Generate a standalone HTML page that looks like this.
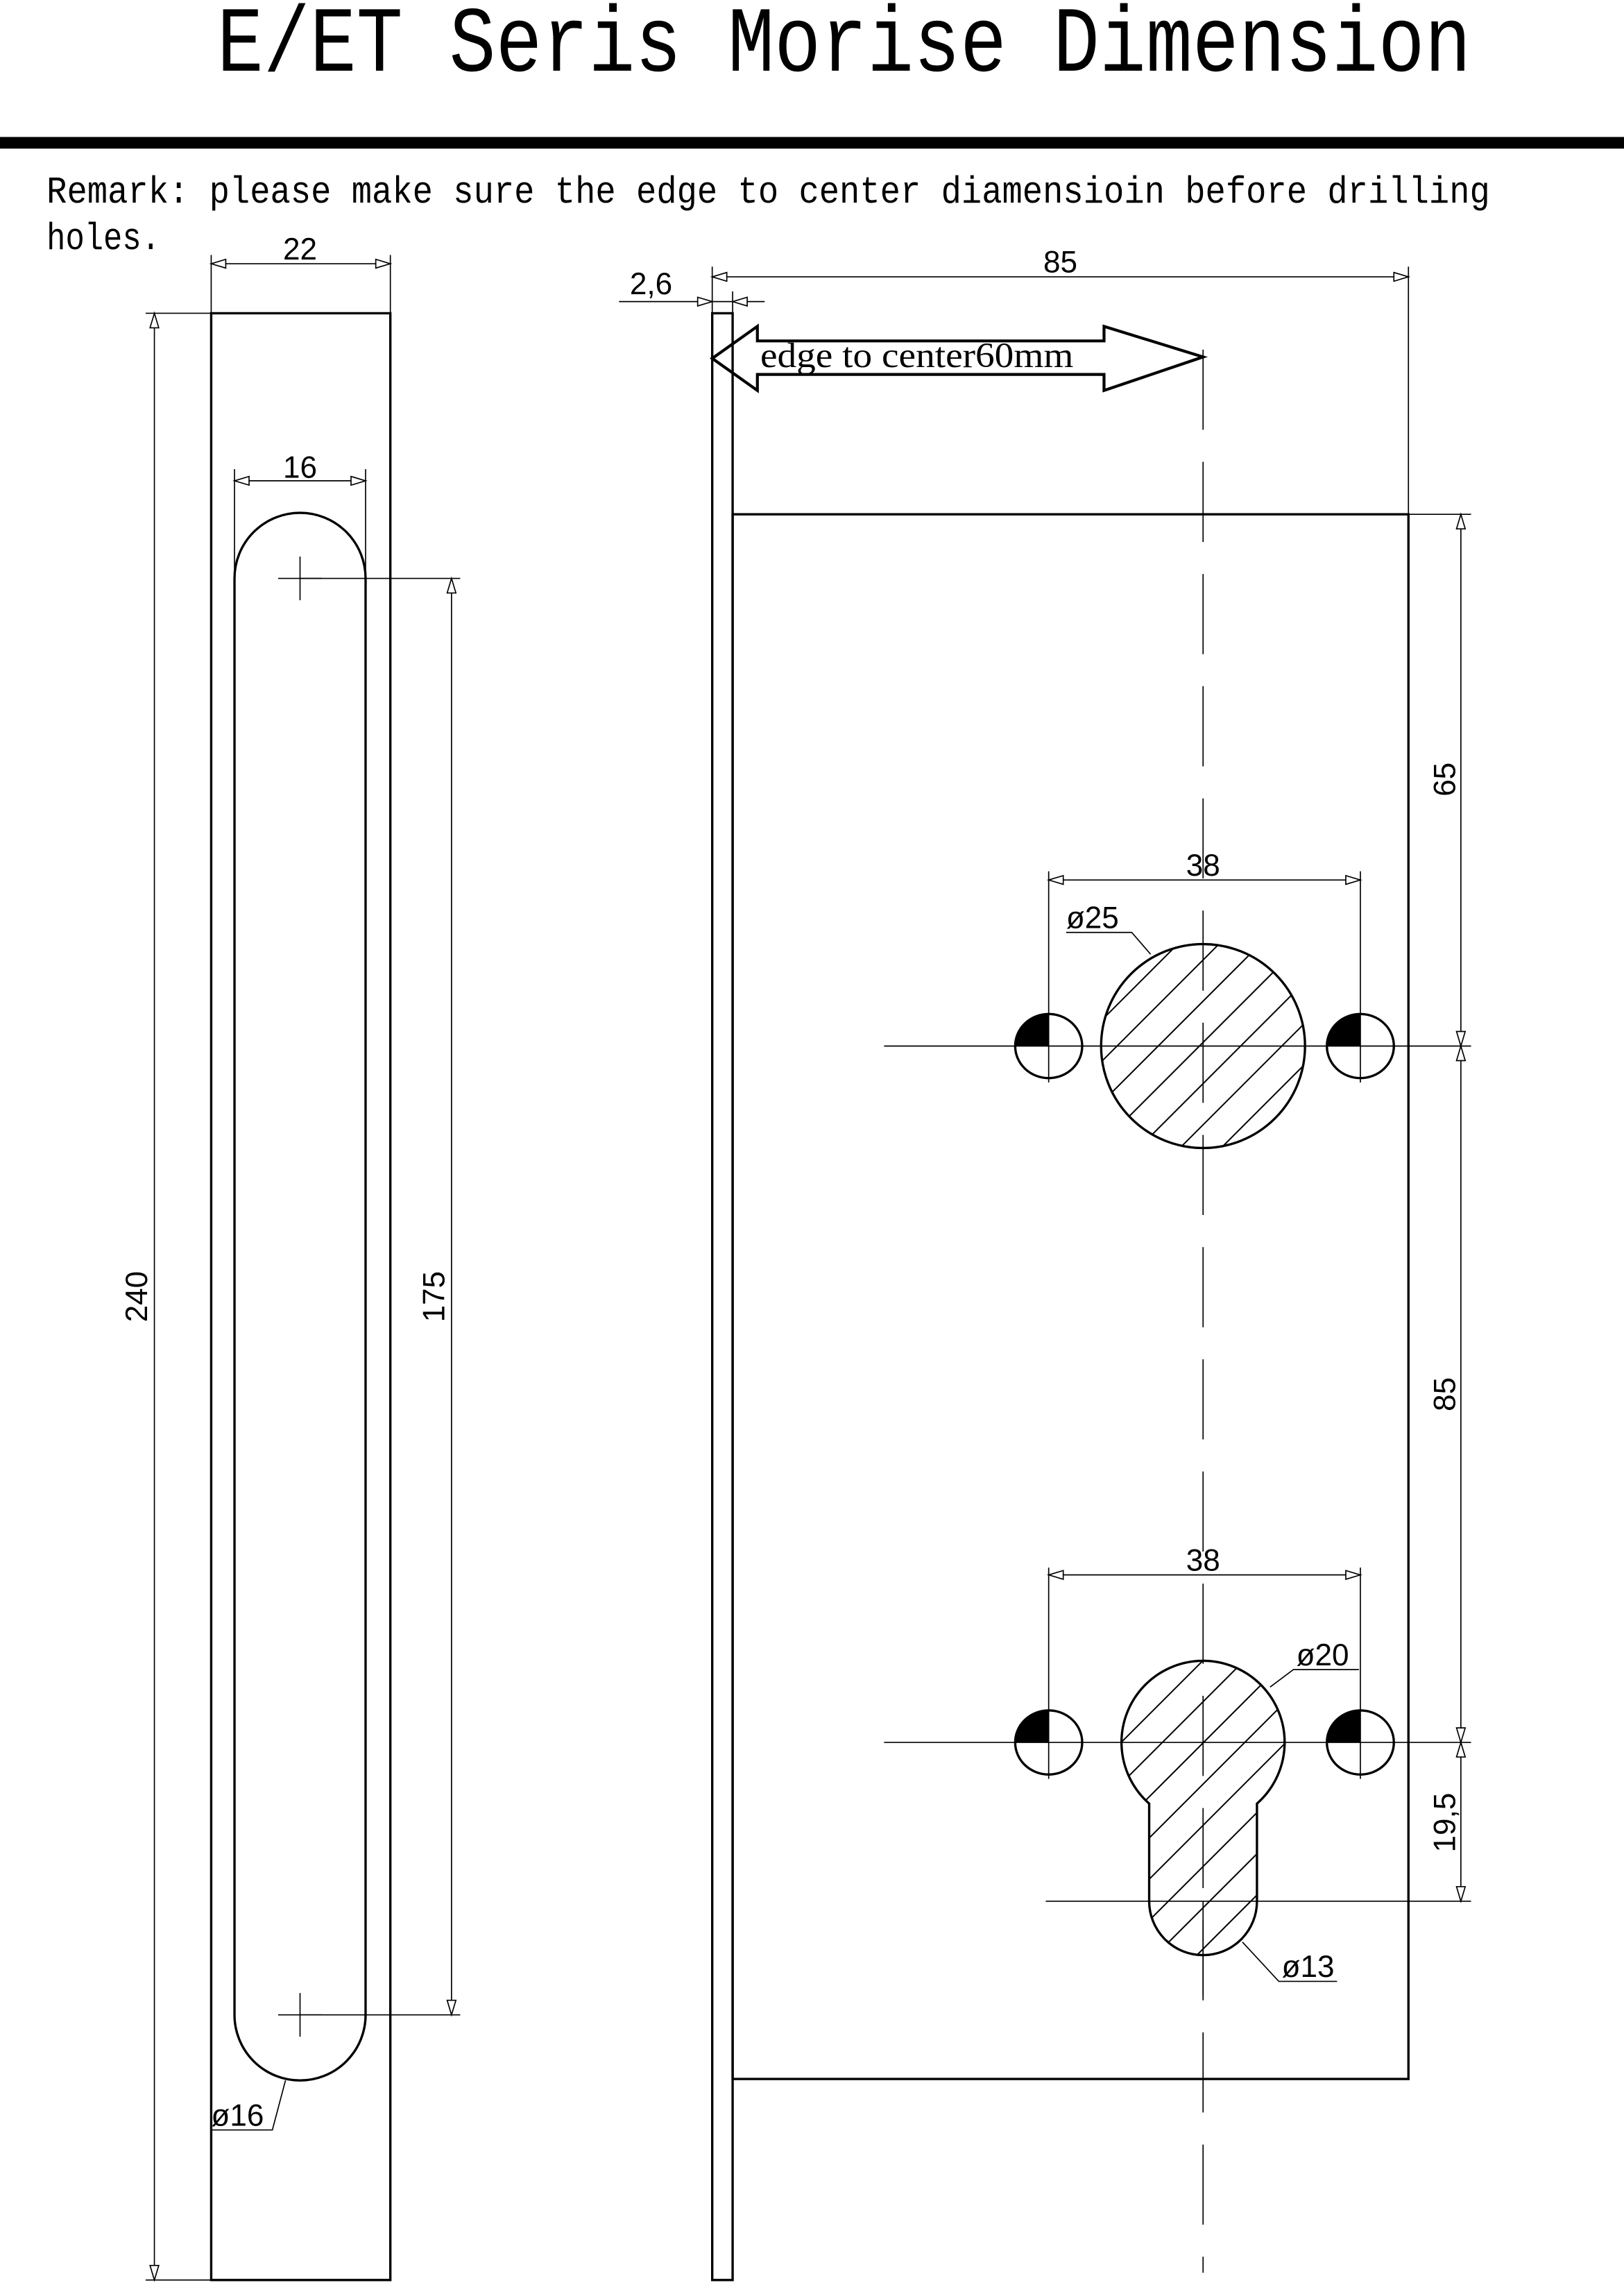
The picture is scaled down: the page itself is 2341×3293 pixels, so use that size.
<!DOCTYPE html>
<html><head><meta charset="utf-8"><style>html,body{margin:0;padding:0;background:#fff}svg{display:block}</style></head>
<body>
<svg xmlns="http://www.w3.org/2000/svg" width="2341" height="3293" viewBox="0 0 1115 1568.4">
<defs>
<pattern id="h" patternUnits="userSpaceOnUse" width="20" height="20" patternTransform="rotate(-45)">
<line x1="0" y1="10" x2="20" y2="10" stroke="#000" stroke-width="1"/>
</pattern>
</defs>
<rect width="1115" height="1569" fill="#fff"/>
<text x="149" y="48.5" font-family="Liberation Mono, monospace" font-size="64" textLength="861" lengthAdjust="spacingAndGlyphs">E/ET Seris Morise Dimension</text>
<rect x="0" y="94" width="1115" height="8" fill="#000"/>
<text x="32" y="139" font-family="Liberation Mono, monospace" font-size="26" textLength="991" lengthAdjust="spacingAndGlyphs">Remark: please make sure the edge to center diamensioin before drilling</text>
<text x="32" y="171" font-family="Liberation Mono, monospace" font-size="26" textLength="78" lengthAdjust="spacingAndGlyphs">holes.</text>

<g fill="none" stroke="#000" stroke-width="1.6">
<rect x="145" y="215" width="123" height="1350"/>
<path d="M161 397 A45 45 0 0 1 251 397 L251 1383 A45 45 0 0 1 161 1383 Z"/>
<rect x="489" y="215" width="14" height="1350"/>
<rect x="503" y="353" width="464" height="1074"/>
<circle cx="826" cy="718" r="70" fill="url(#h)"/>
<path d="M789 1238 A56 56 0 1 1 863 1238 L863 1305 A37 37 0 0 1 789 1305 Z" fill="url(#h)"/>
<ellipse cx="720" cy="718" rx="23" ry="22"/>
<ellipse cx="934" cy="718" rx="23" ry="22"/>
<ellipse cx="720" cy="1196" rx="23" ry="22"/>
<ellipse cx="934" cy="1196" rx="23" ry="22"/>
<path d="M489 246 L520 224 L520 234 L758 234 L758 224 L826 245 L758 268 L758 257 L520 257 L520 268 Z" stroke-width="2"/>
</g>
<g fill="#000">
<path d="M720 718 L697 718 A23 22 0 0 1 720 696 Z"/>
<path d="M934 718 L911 718 A23 22 0 0 1 934 696 Z"/>
<path d="M720 1196 L697 1196 A23 22 0 0 1 720 1174 Z"/>
<path d="M934 1196 L911 1196 A23 22 0 0 1 934 1174 Z"/>
</g>

<g fill="none" stroke="#000" stroke-width="0.8">
<line x1="826" y1="240" x2="826" y2="1560" stroke-dasharray="55 22"/>
<line x1="206" y1="382" x2="206" y2="412"/><line x1="191" y1="397" x2="221" y2="397"/>
<line x1="206" y1="1368" x2="206" y2="1398"/><line x1="191" y1="1383" x2="221" y2="1383"/>
<line x1="145" y1="175" x2="145" y2="215"/><line x1="268" y1="175" x2="268" y2="215"/>
<line x1="145" y1="181" x2="268" y2="181"/>
<line x1="161" y1="322" x2="161" y2="397"/><line x1="251" y1="322" x2="251" y2="397"/>
<line x1="161" y1="330" x2="251" y2="330"/>
<line x1="100" y1="215" x2="145" y2="215"/><line x1="100" y1="1565" x2="145" y2="1565"/>
<line x1="106" y1="215" x2="106" y2="1565"/>
<line x1="206" y1="397" x2="316" y2="397"/><line x1="206" y1="1383" x2="316" y2="1383"/>
<line x1="310" y1="397" x2="310" y2="1383"/>
<polyline points="196,1428 187,1462 145,1462"/>
<line x1="489" y1="183" x2="489" y2="215"/><line x1="967" y1="183" x2="967" y2="353"/>
<line x1="489" y1="190" x2="967" y2="190"/>
<line x1="425" y1="207" x2="525" y2="207"/><line x1="503" y1="200" x2="503" y2="215"/>
<line x1="607" y1="718" x2="1010" y2="718"/>
<line x1="607" y1="1196" x2="1010" y2="1196"/>
<line x1="718" y1="1305" x2="1010" y2="1305"/>
<line x1="967" y1="353" x2="1010" y2="353"/>
<line x1="720" y1="598" x2="720" y2="743"/><line x1="934" y1="598" x2="934" y2="743"/>
<line x1="720" y1="1076" x2="720" y2="1221"/><line x1="934" y1="1076" x2="934" y2="1221"/>
<line x1="720" y1="604" x2="934" y2="604"/>
<line x1="720" y1="1081" x2="934" y2="1081"/>
<line x1="826" y1="1305" x2="826" y2="1370"/>
<line x1="1003" y1="353" x2="1003" y2="1305"/>
<polyline points="790,655 777,640 732,640"/>
<polyline points="872,1158 888,1146 933,1146"/>
<polyline points="853,1333 878,1360 918,1360"/>
</g>
<g fill="#fff" stroke="#000" stroke-width="0.8">
<path d="M145 181 l10 -3 v6 z"/><path d="M268 181 l-10 -3 v6 z"/>
<path d="M161 330 l10 -3 v6 z"/><path d="M251 330 l-10 -3 v6 z"/>
<path d="M106 215 l-3 10 h6 z"/><path d="M106 1565 l-3 -10 h6 z"/>
<path d="M310 397 l-3 10 h6 z"/><path d="M310 1383 l-3 -10 h6 z"/>
<path d="M489 190 l10 -3 v6 z"/><path d="M967 190 l-10 -3 v6 z"/>
<path d="M489 207 l-10 -3 v6 z"/><path d="M503 207 l10 -3 v6 z"/>
<path d="M720 604 l10 -3 v6 z"/><path d="M934 604 l-10 -3 v6 z"/>
<path d="M720 1081 l10 -3 v6 z"/><path d="M934 1081 l-10 -3 v6 z"/>
<path d="M1003 353 l-3 10 h6 z"/><path d="M1003 718 l-3 -10 h6 z"/><path d="M1003 718 l-3 10 h6 z"/>
<path d="M1003 1196 l-3 -10 h6 z"/><path d="M1003 1196 l-3 10 h6 z"/><path d="M1003 1305 l-3 -10 h6 z"/>
</g>
<g font-family="Liberation Sans, sans-serif" font-size="21" fill="#000">
<text x="206" y="178" text-anchor="middle">22</text>
<text x="206" y="328" text-anchor="middle">16</text>
<text x="728" y="187" text-anchor="middle">85</text>
<text x="447" y="202" text-anchor="middle">2,6</text>
<text x="826" y="601" text-anchor="middle">38</text>
<text x="826" y="1078" text-anchor="middle">38</text>
<text x="732" y="637">ø25</text>
<text x="890" y="1143">ø20</text>
<text x="880" y="1357">ø13</text>
<text x="145" y="1459">ø16</text>
<text transform="translate(101,890) rotate(-90)" text-anchor="middle">240</text>
<text transform="translate(305,890) rotate(-90)" text-anchor="middle">175</text>
<text transform="translate(999,535) rotate(-90)" text-anchor="middle">65</text>
<text transform="translate(999,957) rotate(-90)" text-anchor="middle">85</text>
<text transform="translate(999,1251) rotate(-90)" text-anchor="middle">19,5</text>
</g>
<text x="522" y="252" font-family="Liberation Serif, serif" font-size="24" textLength="215" lengthAdjust="spacingAndGlyphs">edge to center60mm</text>
</svg>
</body></html>
